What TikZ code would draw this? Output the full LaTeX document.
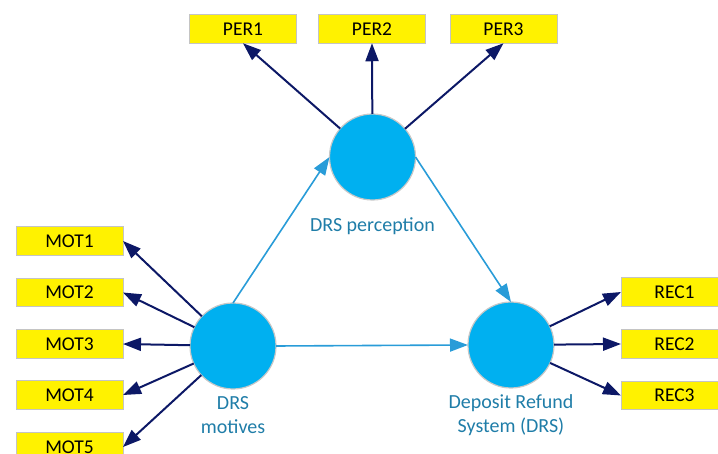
\documentclass[tikz,border=0pt]{standalone}
\usepackage{fontspec}
\setmainfont{Carlito}
\usetikzlibrary{arrows.meta}
\definecolor{navyline}{RGB}{12,24,102}
\definecolor{pathblue}{RGB}{41,156,216}
\definecolor{circblue}{RGB}{0,176,240}
\definecolor{circgray}{RGB}{200,200,200}
\definecolor{boxgray}{RGB}{196,196,196}
\definecolor{lbltext}{RGB}{31,125,168}
\begin{document}
\begin{tikzpicture}[x=1pt,y=-1pt,inner sep=0pt,outer sep=0pt,
indicator/.style={draw=boxgray,fill=yellow,line width=1pt,minimum width=107pt,minimum height=28.5pt,font=\fontsize{19.5}{23}\selectfont},
latent/.style={draw=circgray,fill=circblue,circle,line width=1.2pt,minimum size=86pt},
lbl/.style={text=lbltext,align=center,font=\fontsize{20}{24.5}\selectfont},
loading/.style={navyline,line width=2pt,-{Triangle[length=18pt,width=13pt]}},
structural/.style={pathblue,line width=1.6pt,-{Triangle[length=18pt,width=13pt]}}]
\useasboundingbox (0,0) rectangle (718,454);
\clip (0,0) rectangle (718,454);
% latent variables
\draw (372.5,157) node[latent] (per) {};
\draw (233,346) node[latent] (mot) {};
\draw (511,345) node[latent] (drs) {};
\draw (372.5,226) node[lbl] (perlbl) {DRS perception};
\draw (233,415) node[lbl] (motlbl) {DRS\\motives};
\draw (511,415) node[lbl] (drslbl) {Deposit Refund\\System (DRS)};
% indicators
\draw (243,29) node[indicator] (per1) {PER1};
\draw (372,29) node[indicator] (per2) {PER2};
\draw (503.5,29) node[indicator] (per3) {PER3};
\draw (69.5,241) node[indicator] (mot1) {MOT1};
\draw (69.5,292.5) node[indicator] (mot2) {MOT2};
\draw (69.5,344) node[indicator] (mot3) {MOT3};
\draw (69.5,395) node[indicator] (mot4) {MOT4};
\draw (69.5,447) node[indicator] (mot5) {MOT5};
\draw (674.5,292) node[indicator] (rec1) {REC1};
\draw (674.5,344) node[indicator] (rec2) {REC2};
\draw (674.5,395.5) node[indicator] (rec3) {REC3};
% loadings
\draw[loading] (per) -- (per1.south);
\draw[loading] (per) -- (per2.south);
\draw[loading] (per) -- (per3.south);
\draw[loading] (mot) -- (mot1.east);
\draw[loading] (mot) -- (mot2.east);
\draw[loading] (mot) -- (mot3.east);
\draw[loading] (mot) -- (mot4.east);
\draw[loading] (mot) -- (mot5.east);
\draw[loading] (drs) -- (rec1.west);
\draw[loading] (drs) -- (rec2.west);
\draw[loading] (drs) -- (rec3.west);
% inner model
\draw[structural] (mot.north) -- (per.west);
\draw[structural] (per.east) -- (drs.north);
\draw[structural] (mot.east) -- (drs.west);
\end{tikzpicture}
\end{document}
